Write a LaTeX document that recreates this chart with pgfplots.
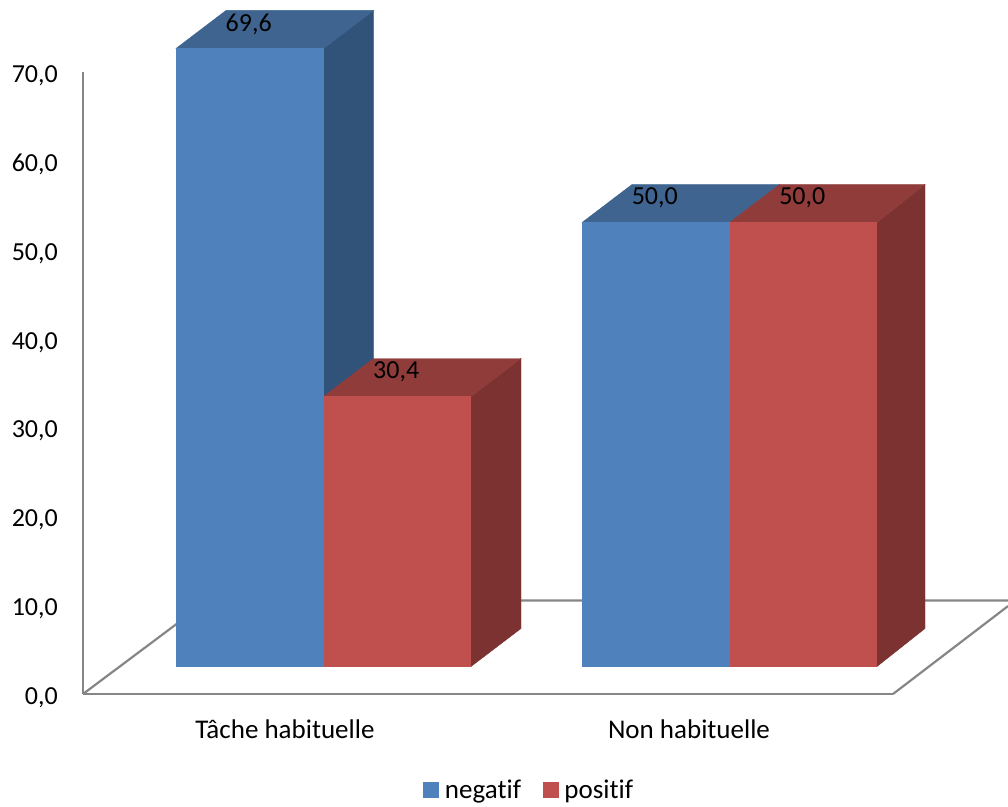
\documentclass[border=0pt]{standalone}
\usepackage{pgfplots}
\usepackage{fontspec}
\setmainfont[Ligatures=NoCommon]{Carlito}
\pgfplotsset{compat=1.18}
\definecolor{bluefront}{HTML}{4F81BD}
\definecolor{bluetop}{HTML}{3F6490}
\definecolor{blueside}{HTML}{325379}
\definecolor{redfront}{HTML}{C0504D}
\definecolor{redtop}{HTML}{8F3C3A}
\definecolor{redside}{HTML}{7C3230}
\definecolor{axisgray}{HTML}{868686}
\newcommand{\chartfont}{\fontsize{27}{31}\selectfont}
\newcommand{\numberfont}{\fontsize{26}{30}\selectfont}
\tikzset{commaformat/.style={/pgf/number format/fixed,/pgf/number format/fixed zerofill,/pgf/number format/precision=1,/pgf/number format/dec sep={,},/pgf/number format/assume math mode=true}}
\pgfplotsset{
  barfront/.style={ybar,bar width=146.5pt,bar shift=0pt,draw=#1,line width=0.5pt,fill=#1,
    legend image code/.code={\fill[#1] (0pt,-7.5pt) rectangle (15pt,7.5pt);},
    nodes near coords,
    every node near coord/.append style={font=\numberfont,text=black,anchor=center,xshift=-1pt,yshift=24.5pt,commaformat}},
}
\begin{document}
\begin{tikzpicture}
\useasboundingbox (0,0) rectangle (1008pt,806pt);
% Value axis, category labels and the chart floor
\begin{axis}[
  at={(83pt,112pt)},anchor=origin,
  scale only axis,width=810pt,height=621.6pt,
  xmin=83,xmax=893,ymin=0,ymax=70,
  clip=false,
  axis lines=left,
  axis line style={-,draw=axisgray,line width=2.4pt},
  major tick length=0pt,
  ytick={0,10,20,30,40,50,60,70},
  xtick={285,689},
  xticklabels={Tâche habituelle,Non habituelle},
  ticklabel style={text=black},
  yticklabel style={font=\numberfont,commaformat,anchor=east,inner sep=0pt,xshift=-25pt,yshift=-3.5pt},
  xticklabel style={font=\chartfont,anchor=center,yshift=-35pt},
]
\addplot[axisgray,line width=2.2pt] coordinates {(83,0)(208,10.53)(1008,10.53)};
\addplot[axisgray,line width=2.2pt] coordinates {(893,0)(1008,9.9)};
\end{axis}
% Bars: side and top faces first, the front faces carry the values
\begin{axis}[
  at={(83pt,139.5pt)},anchor=origin,
  scale only axis,width=810pt,height=621.6pt,
  xmin=83,xmax=893,ymin=0,ymax=70,
  clip=false,hide axis,
  legend style={at={(0.551,-0.199)},anchor=center,draw=none,fill=none,
    font=\chartfont,inner sep=0pt,
    /tikz/every odd column/.append style={column sep=4pt},
    /tikz/every even column/.append style={column sep=20pt}},
  legend columns=2,
  legend cell align=left,
]
% negatif
\addplot[blueside,fill=blueside,forget plot] coordinates {(323.5,0)(373.5,4.28)(373.5,73.88)(323.5,69.6)} -- cycle;
\addplot[bluetop,fill=bluetop,forget plot] coordinates {(176,69.6)(323.5,69.6)(373.5,73.88)(226,73.88)} -- cycle;
\addplot[bluetop,fill=bluetop,forget plot] coordinates {(582,50)(729.5,50)(779.5,54.28)(632,54.28)} -- cycle;
% positif
\addplot[redside,fill=redside,forget plot] coordinates {(471,0)(521,4.28)(521,34.68)(471,30.4)} -- cycle;
\addplot[redside,fill=redside,forget plot] coordinates {(877,0)(925,4.28)(925,54.28)(877,50)} -- cycle;
\addplot[redtop,fill=redtop,forget plot] coordinates {(323.5,30.4)(471,30.4)(521,34.68)(373.5,34.68)} -- cycle;
\addplot[redtop,fill=redtop,forget plot] coordinates {(729.5,50)(877,50)(925,54.28)(779.5,54.28)} -- cycle;
% Front faces
\addplot[barfront=bluefront] coordinates {(249.75,69.6)(655.75,50.0)};
\addlegendentry{negatif}
\addplot[barfront=redfront] coordinates {(397.25,30.4)(803.25,50.0)};
\addlegendentry{positif}
\end{axis}
\end{tikzpicture}
\end{document}
